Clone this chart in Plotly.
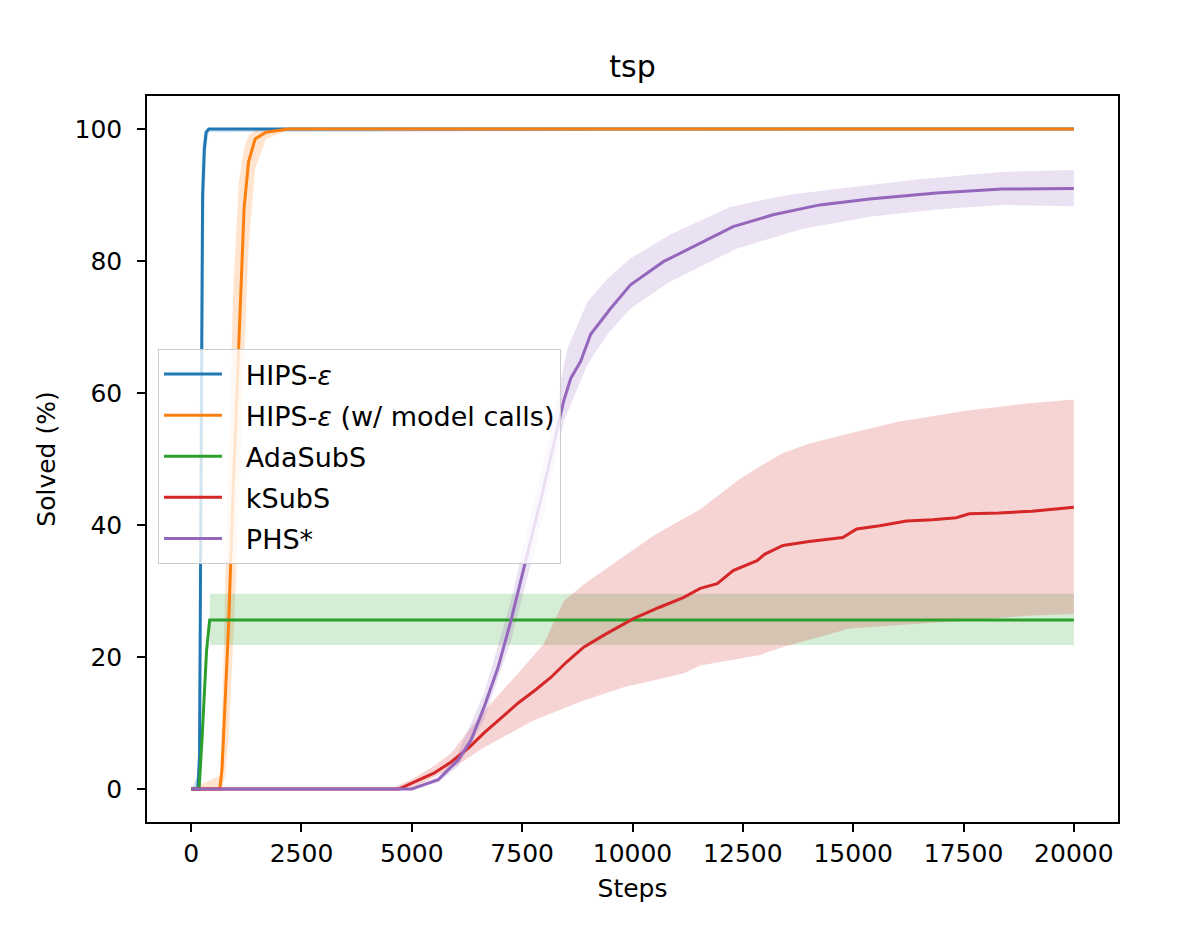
import plotly.graph_objects as go

# HIPS-eps
hips_steps = [0, 150, 190, 210, 230, 260, 300, 340, 400, 20000]
hips_mean = [0, 0, 5, 30, 65, 90, 97, 99.5, 100, 100]
hips_upper = [0, 2, 25, 70, 92, 98, 99.5, 100, 100, 100]
hips_lower = [0, 0, 0, 3, 30, 65, 88, 97, 99.5, 100]

# HIPS-eps (w/ model calls)
hipsm_steps = [0, 650, 700, 770, 850, 950, 1080, 1200, 1300, 1450, 1700, 2200, 20000]
hipsm_mean = [0, 0, 3, 13, 25, 45, 67, 88, 95, 98.5, 99.5, 100, 100]
hipsm_upper = [0, 2, 10, 30, 50, 75, 92, 97, 99, 99.8, 100, 100, 100]
hipsm_lower = [0, 0, 0, 2, 8, 22, 42, 65, 82, 94, 98.5, 99.8, 100]

# AdaSubS
ada_steps = [0, 180, 250, 300, 350, 420, 430, 20000]
ada_mean = [0, 0, 8, 15, 21, 25.6, 25.6, 25.6]
ada_upper = [0, 0, 8, 15, 21, 25.6, 29.6, 29.6]
ada_lower = [0, 0, 8, 15, 21, 25.6, 21.8, 21.8]

# kSubS
ksub_steps = [0, 4700, 4800, 4989, 5500, 5892, 6300, 6637, 7000, 7404, 7800, 8149,
              8500, 8894, 9400, 10023, 10600, 11151, 11535, 11919, 12280, 12822,
              13000, 13408, 14000, 14763, 15079, 15600, 16208, 16800, 17336, 17630,
              18300, 19052, 20000]
ksub_mean = [0, 0, 0.3, 0.9, 2.4, 4.1, 6.3, 8.5, 10.7, 13, 15, 16.9, 19.2, 21.5,
             23.5, 25.8, 27.5, 29, 30.4, 31.1, 33.1, 34.6, 35.6, 36.9, 37.5, 38.1,
             39.4, 39.9, 40.6, 40.8, 41.1, 41.7, 41.8, 42.1, 42.7]
ksub_up_steps = [0, 4500, 4989, 5500, 5892, 6300, 6795, 7404, 7991, 8442, 8894, 9661,
                 10500, 11535, 11986, 12438, 12890, 13408, 14000, 14853, 16050, 17562,
                 19052, 20000]
ksub_upper = [0, 0, 1.4, 3.5, 5.4, 9, 13, 17.5, 22, 28.5, 31, 34.6, 38.5, 42.4, 44.7,
              47, 48.9, 50.9, 52.3, 53.8, 55.7, 57.3, 58.5, 59]
ksub_lo_steps = [0, 5000, 5508, 6000, 6637, 7765, 8894, 9797, 11151, 11535, 12890,
                 13408, 14921, 16795, 19052, 20000]
ksub_lower = [0, 0, 1.8, 3.5, 6.3, 10.4, 13.4, 15.4, 17.5, 18.7, 20.3, 21.5, 24.3,
              25.2, 26.3, 26.5]

# PHS*
phs_steps = [0, 5000, 5598, 6050, 6343, 6637, 6953, 7246, 7540, 8000, 8442, 8600,
             8826, 9052, 9503, 9955, 10700, 11467, 12280, 13183, 14244, 15372, 16885,
             18375, 20000]
phs_mean = [0, 0, 1.4, 4.4, 7.4, 12.4, 18.4, 25.5, 33.5, 46, 58.8, 62.2, 64.8, 68.9,
            72.8, 76.4, 79.9, 82.5, 85.2, 87, 88.5, 89.4, 90.3, 90.9, 91]
phs_up_steps = [0, 5000, 5598, 6050, 6637, 7246, 7540, 8000, 8530, 8984, 9435, 9955,
                10858, 12212, 13499, 14989, 16501, 18375, 20000]
phs_upper = [0, 0, 1.8, 5.5, 14.5, 28.5, 37, 50, 66.8, 73.9, 77.3, 80.4, 84, 88.2, 90,
             91.2, 92.4, 93.5, 93.8]
phs_lo_steps = [0, 5000, 5598, 6050, 6637, 7246, 7540, 8000, 8442, 8984, 9435, 9955,
                10858, 12370, 13860, 15372, 16885, 18375, 20000]
phs_lower = [0, 0, 1, 3.4, 10.5, 22.5, 30, 42, 55.7, 64.4, 68.9, 72.8, 76.9, 81.9,
             84.9, 86.7, 87.8, 88.5, 88.3]

x_ticks = [0, 2500, 5000, 7500, 10000, 12500, 15000, 17500, 20000]
y_ticks = [0, 20, 40, 60, 80, 100]

series = [
    ("HIPS-<i>\u03b5</i>", "#1f77b4", (31, 119, 180),
     hips_steps, hips_mean, hips_steps, hips_upper, hips_steps, hips_lower),
    ("HIPS-<i>\u03b5</i> (w/ model calls)", "#ff7f0e", (255, 127, 14),
     hipsm_steps, hipsm_mean, hipsm_steps, hipsm_upper, hipsm_steps, hipsm_lower),
    ("AdaSubS", "#2ca02c", (44, 160, 44),
     ada_steps, ada_mean, ada_steps, ada_upper, ada_steps, ada_lower),
    ("kSubS", "#d62728", (214, 39, 40),
     ksub_steps, ksub_mean, ksub_up_steps, ksub_upper, ksub_lo_steps, ksub_lower),
    ("PHS*", "#9467bd", (148, 103, 189),
     phs_steps, phs_mean, phs_up_steps, phs_upper, phs_lo_steps, phs_lower),
]

fig = go.Figure()

# shaded bands first so all lines sit on top
for name, color, rgb, xs, ys, xu, yu, xl, yl in series:
    fig.add_trace(go.Scatter(
        x=xu + xl[::-1], y=yu + yl[::-1],
        fill="toself", mode="none",
        fillcolor="rgba(%d,%d,%d,0.2)" % rgb,
        showlegend=False, hoverinfo="skip",
    ))

# en space + thin space: gap between legend line and label like matplotlib
pad = "\u2002\u2009"
for i, (name, color, rgb, xs, ys, xu, yu, xl, yl) in enumerate(series):
    fig.add_trace(go.Scatter(
        x=xs, y=ys, mode="lines", name=pad + name, legendgroup=str(i),
        line=dict(color=color, width=3),
    ))

axis_style = dict(
    showline=True, mirror=True, linecolor="black", linewidth=1.5,
    ticks="outside", ticklen=8, tickwidth=1.5, tickcolor="black",
    showgrid=False, zeroline=False,
    tickfont=dict(size=25, color="black"),
)

# page body adds 8px, so figure is 8px smaller than the window
fig.update_layout(
    width=1188, height=917,
    margin=dict(l=139, r=78, t=88, b=103),
    paper_bgcolor="white", plot_bgcolor="white",
    font=dict(family="DejaVu Sans", color="black"),
    title=dict(text="tsp", x=0.5, xref="paper", y=1 - 58 / 917, yanchor="middle",
               font=dict(size=30)),
    xaxis=dict(range=[-1000, 21000], tickvals=x_ticks,
               ticktext=[str(t) for t in x_ticks],
               title=dict(text="Steps", font=dict(size=25), standoff=13),
               **axis_style),
    yaxis=dict(range=[-5, 105], tickvals=y_ticks, ticklabelstandoff=10,
               title=dict(text="Solved (%)", font=dict(size=25), standoff=12),
               **axis_style),
    legend=dict(x=0.0113, y=0.6515, xanchor="left", yanchor="top",
                bgcolor="rgba(255,255,255,0.8)", bordercolor="#cccccc",
                borderwidth=1, font=dict(size=27), itemwidth=58,
                tracegroupgap=3),
)

fig.write_html("out.html")
